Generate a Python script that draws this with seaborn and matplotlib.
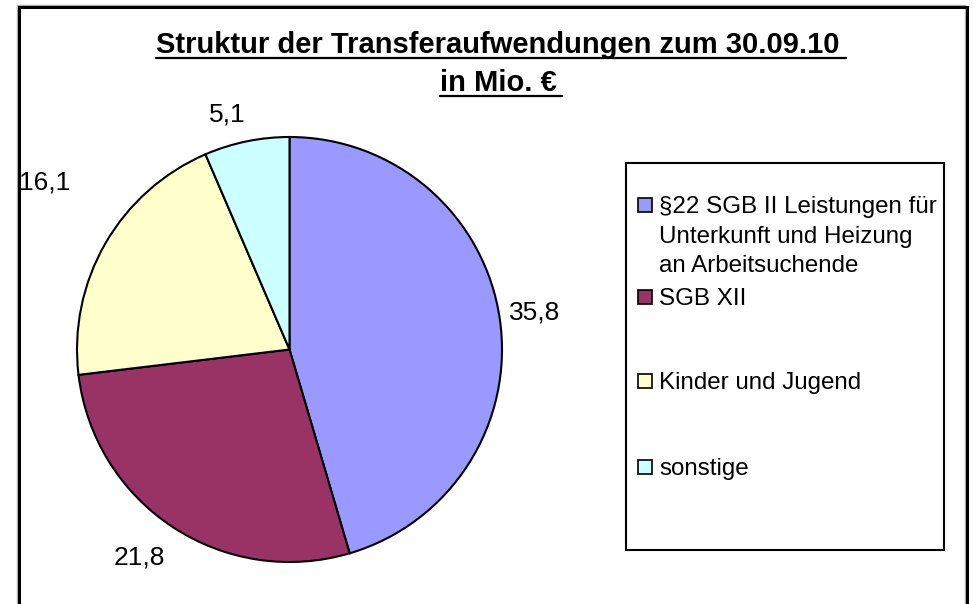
import numpy as np
import matplotlib
matplotlib.use("Agg")
import matplotlib.pyplot as plt
import seaborn as sns
from matplotlib.patches import Rectangle
from matplotlib.lines import Line2D

# --- data ---
categories = [
    "§22 SGB II Leistungen für\nUnterkunft und Heizung\nan Arbeitsuchende",
    "SGB XII",
    "Kinder und Jugend",
    "sonstige",
]
values = [35.8, 21.8, 16.1, 5.1]
value_labels = ["35,8", "21,8", "16,1", "5,1"]
colors = ["#9999FF", "#993366", "#FFFFCC", "#CCFFFF"]
title_lines = ["Struktur der Transferaufwendungen zum 30.09.10", "in Mio. €"]

# label placement tweaks: distance in pie radii, angle shift in degrees
label_radius = [1.167, 1.209, 1.393, 1.142]
label_shift = [0.45, -2.5, -4.4, 3.25]

W, H = 973, 604

sns.set_theme(style="white")
plt.rcParams["font.family"] = ["Liberation Sans", "DejaVu Sans"]


def fx(x):
    return x / W


def fy(y):
    return 1 - y / H


fig = plt.figure(figsize=(W / 100, H / 100), dpi=100)
fig.patch.set_facecolor("white")

# pie
cx, cy, r = 289.5, 349.5, 212.5
ax = fig.add_axes([fx(cx - r), fy(cy + r), 2 * r / W, 2 * r / H])
wedges, _ = ax.pie(
    values,
    colors=colors,
    startangle=90,
    counterclock=False,
    wedgeprops=dict(edgecolor="black", linewidth=1.5),
)
ax.set_xlim(-1, 1)
ax.set_ylim(-1, 1)
ax.axis("off")

for w, lab, rl, sh in zip(wedges, value_labels, label_radius, label_shift):
    mid = np.deg2rad((w.theta1 + w.theta2) / 2 + sh)
    ax.text(rl * np.cos(mid), rl * np.sin(mid), lab, ha="center", va="center",
            fontsize=19, color="black")

# outer frame (with a faint grey shadow line)
fig.add_artist(Rectangle((fx(17), fy(650)), (965 - 17) / W, (650 - 5) / H,
                         transform=fig.transFigure, fill=False, edgecolor="#b0b0b0",
                         linewidth=1.0))
fig.add_artist(Rectangle((fx(19), fy(650)), (967 - 19) / W, (650 - 7) / H,
                         transform=fig.transFigure, fill=False, edgecolor="black",
                         linewidth=2.2))

# legend box
fig.add_artist(Rectangle((fx(626), fy(550)), (944 - 626) / W, (550 - 163) / H,
                         transform=fig.transFigure, fill=False, edgecolor="black",
                         linewidth=1.5))
baselines = [213, 305, 389, 475]
line_step = 29.5
for cat, col, yb in zip(categories, colors, baselines):
    fig.add_artist(Rectangle((fx(638), fy(yb - 1)), 14 / W, 14 / H,
                             transform=fig.transFigure, facecolor=col,
                             edgecolor="black", linewidth=1.2))
    for i, part in enumerate(cat.split("\n")):
        fig.text(fx(659), fy(yb + i * line_step), part, ha="left", va="baseline",
                 fontsize=17.4, color="black")

# title with underline
title_base = [53, 91]
texts = []
for line, yb in zip(title_lines, title_base):
    t = fig.text(fx(498), fy(yb), line, ha="center", va="baseline",
                 fontsize=21, fontweight="bold", color="black")
    texts.append(t)

fig.canvas.draw()
renderer = fig.canvas.get_renderer()
for t, yb in zip(texts, title_base):
    bb = t.get_window_extent(renderer)
    fig.add_artist(Line2D([bb.x0 / W, (bb.x1 + 6) / W], [fy(yb + 5)] * 2,
                          transform=fig.transFigure, color="black", linewidth=1.6))

fig.savefig("out.png", dpi=100)
